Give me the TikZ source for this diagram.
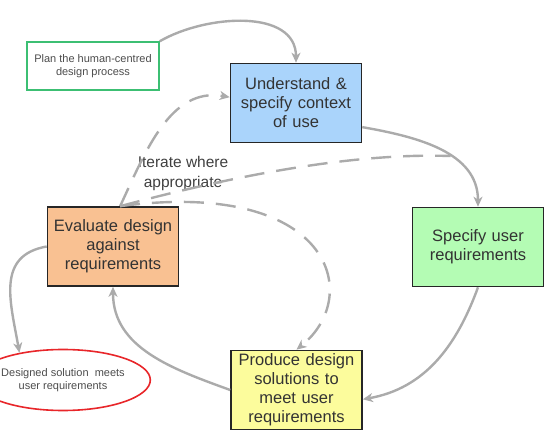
\documentclass[tikz,border=0pt]{standalone}
\usepackage{fontspec}
\setmainfont{Liberation Sans}
\usepackage{tikz}
\usetikzlibrary{arrows.meta}
\usetikzlibrary{shapes.geometric}
\usetikzlibrary{positioning}
\definecolor{understandblue}{HTML}{AAD4FB}
\definecolor{specifygreen}{HTML}{B4FCB4}
\definecolor{evaluateorange}{HTML}{F9C192}
\definecolor{produceyellow}{HTML}{FCFC9C}
\definecolor{planframe}{HTML}{3CBF73}
\definecolor{doneframe}{HTML}{E8262A}
\definecolor{flowgray}{HTML}{ABABAB}
\tikzset{
stage/.style = {draw=black!85, line width=1.6pt, minimum width=131pt,
                minimum height=79pt, text width=125pt, align=center, inner sep=2pt,
                font=\fontsize{16.5}{19}\selectfont, text=black!80},
flow/.style = {draw=flowgray, line width=2.4pt,
               -{Stealth[length=10pt,width=9pt,inset=3pt]}},
iterate/.style = {flow, dash pattern=on 20pt off 12pt},
note/.style = {font=\fontsize{11}{13}\selectfont, text=black!70, align=center}
}
\newcommand{\stagebox}[4]{\node[stage, fill=#4] (#1) at (#2) {#3};}
\newcommand{\flowpath}[3]{\draw[flow] (#1) to[#3] (#2);}

\begin{document}
\begin{tikzpicture}[x=1pt,y=1pt]
        \useasboundingbox (0,0) rectangle (549,-433);
        \stagebox{under}{296,-103}{Understand \&\\ specify context\\ of use}{understandblue};
        \stagebox{spec}{478,-247}{Specify user\\ requirements}{specifygreen};
        \stagebox{eval}{113,-246.5}{Evaluate design\\ against\\ requirements}{evaluateorange};
        \stagebox{prod}{296.5,-390}{Produce design\\ solutions to\\ meet user\\ requirements}{produceyellow};
        \node[note, draw=planframe, line width=1.5pt, minimum width=132pt, minimum height=48pt] (plan) at (93,-66) {Plan the human-centred\\ design process};
        \node[note, ellipse, draw=doneframe, line width=1.6pt, minimum width=138pt, minimum height=61pt, inner sep=0pt] (done) at (63,-380) {Designed solution~ meets\\ user requirements};
        \node[font=\fontsize{15.5}{20}\selectfont, text=black!75, align=center] (iter) at (183,-173) {Iterate where\\ appropriate};
        % main cycle
        \flowpath{plan.north east}{under.north}{out=30, in=90};
        \draw[flow] (under.-20) to[out=-10, in=90] coordinate[pos=0.58] (join) (spec.north);
        \flowpath{spec.south}{prod.-8}{out=-110, in=10};
        \flowpath{prod.west}{eval.south}{out=160, in=-90};
        \flowpath{eval.west}{done.148}{out=190, in=100, looseness=1.2};
        % iterate where appropriate
        \draw[iterate] (eval.80) to[out=65, in=170] (under.175);
        \draw[iterate, -] (eval.80) to[out=15, in=178, looseness=0.8] (join);
        \draw[iterate] (eval.80) .. controls +(210,28) and +(68,55) .. (prod.north);
\end{tikzpicture}
\end{document}
